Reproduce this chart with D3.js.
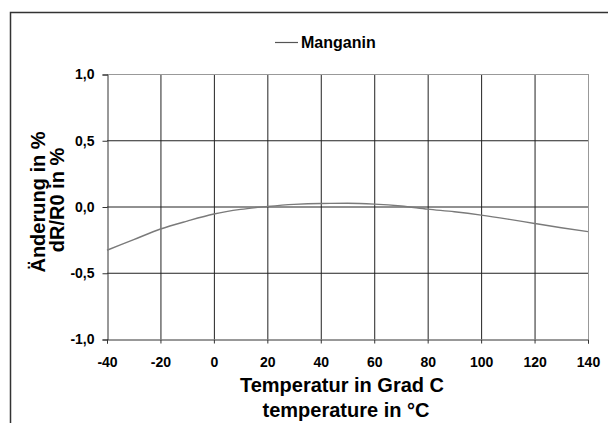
<!DOCTYPE html>
<html>
<head>
<meta charset="utf-8">
<script src="https://cdn.jsdelivr.net/npm/d3@7"></script>
<style>
  body { margin: 0; background: #fff; }
  svg text { font-family: Arial, "Liberation Sans", sans-serif; font-weight: bold; fill: #000; }
</style>
</head>
<body>
<script>
// Manganin: change of resistance vs temperature
var temps = [-40, -30, -20, -10, 0, 10, 20, 30, 40, 50, 60, 70, 80, 90, 100, 110, 120, 130, 140];
var dR = [-0.33, -0.25, -0.17, -0.11, -0.057, -0.022, 0.0, 0.016, 0.023, 0.024, 0.018, 0.004, -0.02, -0.04, -0.065, -0.095, -0.128, -0.16, -0.19];
var xTicks = [-40, -20, 0, 20, 40, 60, 80, 100, 120, 140];
var yTicks = [-1.0, -0.5, 0.0, 0.5, 1.0];
var seriesName = "Manganin";

window.onload = drawChart();
function drawChart(){

  var width = 608,
      height = 423;

  var svg = d3.select("body")
      .append("svg")
      .attr("width", width)
      .attr("height", height);

  // outer frame (only top and left visible)
  svg.append("path")
      .attr("d", "M10.5," + height + "V12.5H" + width)
      .attr("fill", "none")
      .attr("stroke", "#333")
      .attr("stroke-width", 1.5);

  var pLeft = 107, pRight = 588, pTop = 74, pBottom = 339;

  var x = d3.scaleLinear().domain([-40, 140]).range([pLeft, pRight]);
  var y = d3.scaleLinear().domain([-1, 1]).range([pBottom, pTop]);

  // grid
  svg.selectAll(".vgrid")
      .data(xTicks.slice(1))
      .enter()
      .append("line")
      .attr("class", "vgrid")
      .attr("x1", function(d){ return x(d) + 0.5; })
      .attr("x2", function(d){ return x(d) + 0.5; })
      .attr("y1", pTop)
      .attr("y2", pBottom)
      .attr("stroke", function(d){ return d === 140 ? "#999" : "#222"; })
      .attr("stroke-width", 1);

  svg.selectAll(".hgrid")
      .data(yTicks.slice(1))
      .enter()
      .append("line")
      .attr("class", "hgrid")
      .attr("x1", pLeft)
      .attr("x2", pRight)
      .attr("y1", function(d){ return y(d) + 0.5; })
      .attr("y2", function(d){ return y(d) + 0.5; })
      .attr("stroke", function(d){ return d === 1 ? "#999" : "#222"; })
      .attr("stroke-width", 1);

  // axes
  var fmt = function(d){ return d3.format(".1f")(d).replace(".", ",").replace("\u2212", "-"); };

  var yAxis = svg.append("g")
      .attr("transform", "translate(" + (pLeft + 0.5) + ",0.5)")
      .call(d3.axisLeft(y).tickValues(yTicks).tickSize(5).tickPadding(8).tickFormat(fmt));

  var xAxis = svg.append("g")
      .attr("transform", "translate(0," + (pBottom + 0.5) + ")")
      .call(d3.axisBottom(x).tickValues(xTicks).tickSize(4).tickPadding(14).tickFormat(function(d){ return String(d); }));

  [yAxis, xAxis].forEach(function(g){
    g.select(".domain").attr("stroke", "#333");
    g.selectAll(".tick line").attr("stroke", "#333");
    g.selectAll(".tick text")
        .style("font-family", "Arial, 'Liberation Sans', sans-serif")
        .style("font-weight", "bold")
        .style("font-size", "14px")
        .attr("fill", "#000");
  });

  // curve
  var line = d3.line()
      .x(function(d, i){ return x(temps[i]); })
      .y(function(d){ return y(d); })
      .curve(d3.curveMonotoneX);

  svg.append("path")
      .datum(dR)
      .attr("d", line)
      .attr("fill", "none")
      .attr("stroke", "#7a7a7a")
      .attr("stroke-width", 1.4);

  // legend
  svg.append("line")
      .attr("x1", 275).attr("x2", 298)
      .attr("y1", 42.5).attr("y2", 42.5)
      .attr("stroke", "#555")
      .attr("stroke-width", 1.2);

  svg.append("text")
      .attr("x", 301)
      .attr("y", 47.5)
      .style("font-size", "16px")
      .text(seriesName);

  // axis titles
  svg.append("text")
      .attr("x", 342)
      .attr("y", 392)
      .attr("text-anchor", "middle")
      .style("font-size", "20px")
      .text("Temperatur in Grad C");

  svg.append("text")
      .attr("x", 346)
      .attr("y", 417)
      .attr("text-anchor", "middle")
      .style("font-size", "20px")
      .text("temperature in °C");

  svg.append("text")
      .attr("transform", "translate(45,202) rotate(-90)")
      .attr("text-anchor", "middle")
      .style("font-size", "20px")
      .text("Änderung in %");

  svg.append("text")
      .attr("transform", "translate(64,200) rotate(-90)")
      .attr("text-anchor", "middle")
      .style("font-size", "20px")
      .text("dR/R0 in %");
}
</script>
</body>
</html>
